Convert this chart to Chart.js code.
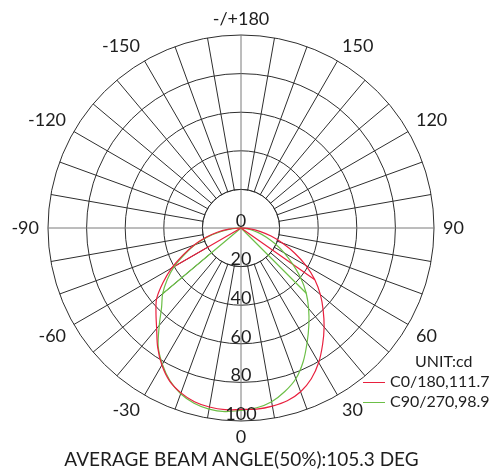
<!DOCTYPE html>
<html>
<head>
<meta charset="utf-8">
<script src="https://cdn.jsdelivr.net/npm/chart.js@4.4.1/dist/chart.umd.min.js"></script>
<style>
  body { margin: 0; background: #fff; font-family: Lato, "Open Sans", sans-serif; color: #1e1e1e; }
  #wrap { position: relative; width: 498px; height: 474px; overflow: hidden; }
  #grafico { position: absolute; left: 0; top: 0; }
  .unidade { position: absolute; left: 415px; top: 351px; font-size: 16px; line-height: 20px; }
  .item { position: absolute; left: 363px; font-size: 16px; line-height: 20px; white-space: nowrap; }
  .item span { display: inline-block; width: 22px; height: 1px; vertical-align: middle; margin-right: 5px; }
  #rodape { position: absolute; left: 0; width: 483px; top: 448px; text-align: center; font-size: 19px; line-height: 22px; }
</style>
</head>
<body>
<div id="wrap">
  <canvas id="grafico" width="498" height="474"></canvas>
  <div class="unidade" id="unidade"></div>
  <div id="legenda"></div>
  <div id="rodape"></div>
</div>
<script>
// ---------------------------------------------------------
// Data (gamma angle, clockwise from top)
// ---------------------------------------------------------
const angles = [
  180, 175, 170, 165, 160, 155, 150, 145, 140, 135, 130, 125,
  120, 115, 110, 105, 100, 95, 90, 85, 80, 75, 70, 65,
  60, 55, 50, 45, 40, 35, 30, 25, 20, 15, 10, 5,
  0, -5, -10, -15, -20, -25, -30, -35, -40, -45, -50, -55,
  -60, -65, -70, -75, -80, -85, -90, -95, -100, -105, -110, -115,
  -120, -125, -130, -135, -140, -145, -150, -155, -160, -165, -170, -175,
];

// C0/180 plane
const c0Values = [
  0, 0, 0, 0, 0, 0, 0, 0, 0, 0, 0, 0,
  0, 0, 0, 0, 0, 0, 0, 4.7, 9.9, 16.1, 22.8, 30.6,
  38.9, 46.7, 53.7, 60.2, 67.0, 73.7, 80.5, 86.2, 90.3, 92.7, 93.7, 94.2,
  94.0, 94.5, 94.2, 93.2, 90.9, 87.5, 82.0, 75.3, 68.0, 62.3, 57.1, 49.3,
  41.5, 33.2, 26.0, 18.7, 12.5, 6.2, 0, 0, 0, 0, 0, 0,
  0, 0, 0, 0, 0, 0, 0, 0, 0, 0, 0, 0,
];

// C90/270 plane
const c90Values = [
  0, 0, 0, 0, 0, 0, 0, 0, 0, 0, 0, 0,
  0, 0, 0, 0, 0, 0, 0, 2.1, 5.2, 9.3, 14.0, 19.7,
  26.0, 32.7, 40.5, 47.8, 54.5, 61.3, 68.5, 76.3, 83.1, 87.7, 91.4, 93.5,
  94.5, 95.5, 95.3, 94.0, 91.4, 87.2, 81.5, 74.8, 65.9, 58.2, 53.0, 46.7,
  40.0, 32.2, 25.4, 18.2, 10.4, 4.2, 0, 0, 0, 0, 0, 0,
  0, 0, 0, 0, 0, 0, 0, 0, 0, 0, 0, 0,
];

// straight strokes from the centre into each curve
const c0Chord = { 60: 0, 55: 46.7, "-60": 41.5, "-65": 0 };
const c90Chord = { 50: 0, 45: 47.8, "-50": 53.0, "-55": 0 };

const seriesNames = ["C0/180,111.7", "C90/270,98.9"];
const seriesColors = ["#e8203e", "#6cbf47"];

const radialTicks = [0, 20, 40, 60, 80, 100];
const angleTickValues = [180, 150, 120, 90, 60, 30, 0, -30, -60, -90, -120, -150];
const angleTickLabels = ["-/+180", "150", "120", "90", "60", "30", "0", "-30", "-60", "-90", "-120", "-150"];

const unitText = "UNIT:cd";
const footerText = "AVERAGE BEAM ANGLE(50%):105.3 DEG";

const gridColor = "#2e2e2e";
const axisColor = "#7a7a7a";
const textFont = "18px Lato, 'Open Sans', sans-serif";

function chordData(chord) {
  return angles.map((a) => (chord[a] !== undefined ? chord[a] : null));
}

// ---------------------------------------------------------
// Legend + footer (plain html text)
// ---------------------------------------------------------
document.getElementById("unidade").textContent = unitText;
const legenda = document.getElementById("legenda");
seriesNames.forEach((nome, i) => {
  const div = document.createElement("div");
  div.className = "item";
  div.style.top = 371 + i * 20 + "px";
  div.innerHTML = `<span style="background:${seriesColors[i]}"></span>${nome}`;
  legenda.appendChild(div);
});
document.getElementById("rodape").textContent = footerText;

// ---------------------------------------------------------
// Inner disc, axis cross, ring values and angle labels
// ---------------------------------------------------------
const decoracao = {
  id: "decoracao",
  beforeDatasetsDraw(chart) {
    const s = chart.scales.r;
    const ctx = chart.ctx;
    const r0 = s.getDistanceFromCenterForValue(radialTicks[1]);
    ctx.save();
    ctx.beginPath();
    ctx.arc(s.xCenter, s.yCenter, r0 - 0.5, 0, Math.PI * 2);
    ctx.fillStyle = "#fff";
    ctx.fill();
    ctx.beginPath();
    ctx.arc(s.xCenter, s.yCenter, r0, 0, Math.PI * 2);
    ctx.strokeStyle = gridColor;
    ctx.lineWidth = 1;
    ctx.stroke();
    ctx.beginPath();
    ctx.moveTo(s.xCenter - r0, s.yCenter);
    ctx.lineTo(s.xCenter + r0, s.yCenter);
    ctx.moveTo(s.xCenter, s.yCenter - r0);
    ctx.lineTo(s.xCenter, s.yCenter + r0);
    ctx.strokeStyle = axisColor;
    ctx.stroke();
    ctx.restore();
  },
  afterDatasetsDraw(chart) {
    const s = chart.scales.r;
    const ctx = chart.ctx;
    ctx.save();
    ctx.font = textFont;
    ctx.fillStyle = "#1e1e1e";
    ctx.textAlign = "center";
    ctx.textBaseline = "middle";

    radialTicks.forEach((v) => {
      ctx.fillText(String(v), s.xCenter, s.yCenter + s.getDistanceFromCenterForValue(v) - 7);
    });

    const h = 14;
    angleTickValues.forEach((v, k) => {
      const idx = angles.indexOf(v);
      const p = s.getPointPosition(idx, s.drawingArea + 9);
      const w = ctx.measureText(angleTickLabels[k]).width;
      const cx = Math.cos(p.angle);
      const sy = Math.sin(p.angle);
      let x = p.x;
      let y = p.y;
      if (cx > 0.01) x += w / 2;
      else if (cx < -0.01) x -= w / 2;
      if (sy < -0.01) y -= h / 2;
      else if (sy > 0.01) y += h / 2;
      ctx.fillText(angleTickLabels[k], x, y);
    });
    ctx.restore();
  },
};

// ---------------------------------------------------------
// Polar (radar) chart
// ---------------------------------------------------------
new Chart(document.getElementById("grafico"), {
  type: "radar",
  data: {
    labels: angles,
    datasets: [
      { label: seriesNames[0], data: c0Values, borderColor: seriesColors[0], tension: 0.3 },
      { label: seriesNames[1], data: c90Values, borderColor: seriesColors[1], tension: 0.3 },
      { label: "c0-chord", data: chordData(c0Chord), borderColor: seriesColors[0], spanGaps: false },
      { label: "c90-chord", data: chordData(c90Chord), borderColor: seriesColors[1], spanGaps: false },
    ],
  },
  options: {
    responsive: false,
    animation: false,
    layout: { padding: { left: 48, right: 64, top: 35, bottom: 53 } },
    elements: {
      line: { borderWidth: 1.2, tension: 0, fill: false },
      point: { radius: 0, hoverRadius: 0 },
    },
    plugins: { legend: { display: false }, tooltip: { enabled: false } },
    scales: {
      r: {
        min: 0,
        max: 100,
        ticks: { display: false, stepSize: 20 },
        pointLabels: { display: false },
        grid: { circular: true, color: gridColor, lineWidth: 1 },
        angleLines: {
          color: (c) => ([0, 90, -90, 180].includes(angles[c.index]) ? axisColor : gridColor),
          lineWidth: (c) => (angles[c.index] % 10 === 0 ? 1 : 0),
        },
      },
    },
  },
  plugins: [decoracao],
});
</script>
</body>
</html>
